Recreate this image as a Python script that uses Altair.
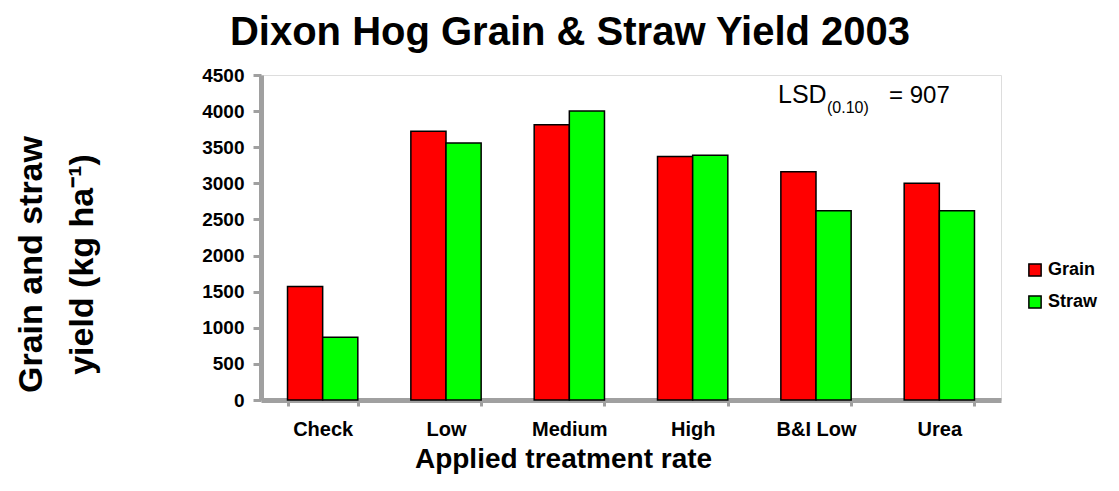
import altair as alt
import pandas as pd

treatments = ["Check", "Low", "Medium", "High", "B&I Low", "Urea"]
grain = [1570, 3720, 3810, 3370, 3160, 3000]
straw = [870, 3560, 4000, 3390, 2620, 2620]
series = ["Grain", "Straw"]
colors = ["#ff0000", "#00ff00"]

rows = []
for t, g, s in zip(treatments, grain, straw):
    rows.append({"Treatment": t, "Series": "Grain", "Yield": g})
    rows.append({"Treatment": t, "Series": "Straw", "Yield": s})
df = pd.DataFrame(rows)

FONT = "Liberation Sans"

bars = alt.Chart(df).mark_bar(stroke="black", strokeWidth=1.5).encode(
    x=alt.X(
        "Treatment:N",
        sort=treatments,
        scale=alt.Scale(paddingInner=0.43, paddingOuter=0.215),
        axis=alt.Axis(
            title="Applied treatment rate",
            labelAngle=0,
            labelFont=FONT,
            labelFontSize=20,
            labelFontWeight="bold",
            labelColor="black",
            labelPadding=13,
            titleFont=FONT,
            titleFontSize=28,
            titleFontWeight="bold",
            titleColor="black",
            titlePadding=6,
            titleX=302,
            titleAnchor="middle",
            tickBand="extent",
            tickColor="#a0a0a0",
            tickSize=6,
            tickWidth=3,
            domainColor="#a0a0a0",
            domainWidth=5,
        ),
    ),
    xOffset=alt.XOffset("Series:N", sort=series),
    y=alt.Y(
        "Yield:Q",
        scale=alt.Scale(domain=[0, 4500], nice=False),
        axis=alt.Axis(
            title=["Grain and straw", "yield (kg ha\u207b\u00b9)"],
            values=list(range(0, 4501, 500)),
            format="d",
            grid=False,
            labelFont=FONT,
            labelFontSize=19,
            labelFontWeight="bold",
            labelColor="black",
            labelPadding=9,
            tickColor="#a0a0a0",
            tickSize=8,
            tickWidth=3,
            domainColor="#a0a0a0",
            domainWidth=5,
            titleFont=FONT,
            titleFontSize=34,
            titleFontWeight="bold",
            titleColor="black",
            titleAngle=-90,
            titleAlign="center",
            titleBaseline="alphabetic",
            titleLineHeight=51,
            titleX=-220,
            titleY=189,
        ),
    ),
    color=alt.Color(
        "Series:N",
        sort=series,
        scale=alt.Scale(domain=series, range=colors),
        legend=alt.Legend(
            title=None,
            orient="none",
            legendX=765,
            legendY=186,
            symbolType="square",
            symbolSize=150,
            symbolStrokeColor="black",
            symbolStrokeWidth=1.5,
            symbolOpacity=1,
            labelFont=FONT,
            labelFontSize=18,
            labelFontWeight="bold",
            labelColor="black",
            rowPadding=12,
        ),
    ),
)

ann = pd.DataFrame({
    "txt": ["LSD", "(0.10)", "= 907"],
    "px": [778, 827, 889],
    "py": [103, 113, 103],
    "fs": [25, 16, 24],
})
ann["px"] = ann["px"] - 261
ann["py"] = ann["py"] - 75

lsd = alt.Chart(ann).mark_text(align="left", baseline="alphabetic", font=FONT, color="black").encode(
    x=alt.X("px:Q", scale=None),
    y=alt.Y("py:Q", scale=None),
    text="txt:N",
    size=alt.Size("fs:Q", scale=None, legend=None),
)

chart = alt.layer(bars, lsd).resolve_scale(x="independent", y="independent").properties(
    width=740,
    height=325,
    title=alt.TitleParams(
        "Dixon Hog Grain & Straw Yield 2003",
        font=FONT,
        fontSize=40,
        fontWeight="bold",
        color="black",
        anchor="middle",
        dx=-61,
        offset=13,
    ),
    autosize=alt.AutoSizeParams(type="none"),
    padding={"left": 253, "top": 67, "right": 110, "bottom": 83},
).configure_view(stroke=None).configure(background="white")

chart.save("out.html", embed_options={"renderer": "svg", "actions": False})
